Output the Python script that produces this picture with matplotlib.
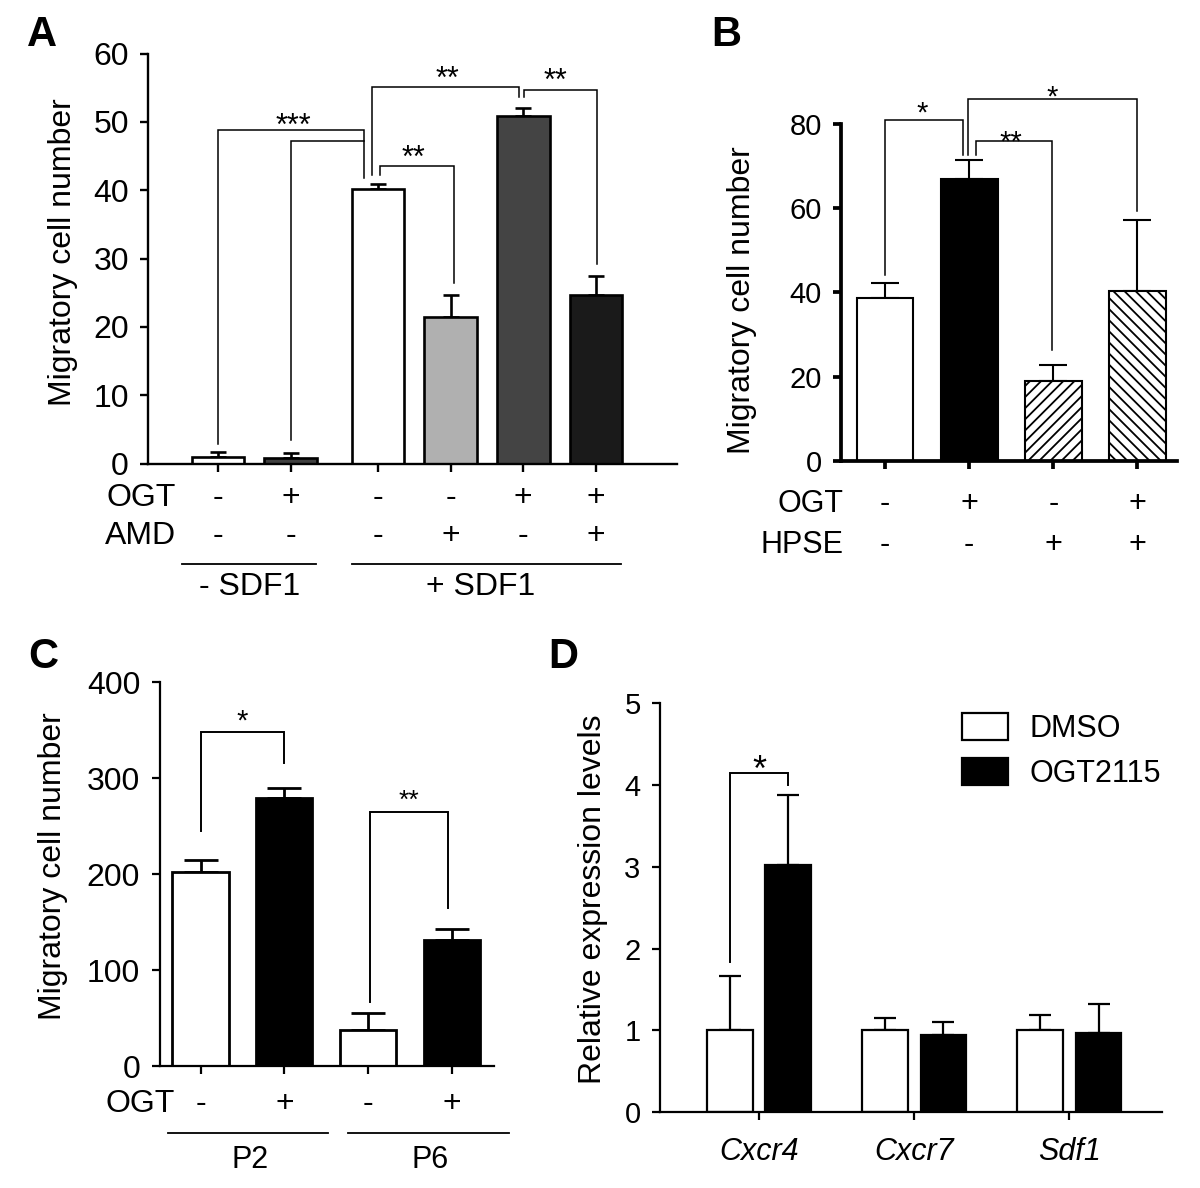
import matplotlib
matplotlib.use("Agg")
import matplotlib.pyplot as plt
import numpy as np

plt.rcParams['font.family'] = ['Liberation Sans', 'DejaVu Sans']
plt.rcParams['hatch.linewidth'] = 1.3

# ---- panel A data
a_x = [0, 1, 2.2, 3.2, 4.2, 5.2]
a_vals = [1.0, 0.8, 40.2, 21.4, 50.8, 24.7]
a_sem = [0.63, 0.77, 0.7, 3.3, 1.3, 2.8]
a_colors = ["white", "#404040", "white", "#b0b0b0", "#444444", "#1a1a1a"]
a_ogt = ["-", "+", "-", "-", "+", "+"]
a_amd = ["-", "-", "-", "+", "-", "+"]

# ---- panel B data
b_x = [0, 1, 2, 3]
b_vals = [38.7, 66.8, 19.0, 40.3]
b_sem = [3.6, 4.5, 3.8, 16.8]
b_colors = ["white", "black", "white", "white"]
b_hatch = [None, None, "///", "\\\\\\"]
b_ogt = ["-", "+", "-", "+"]
b_hpse = ["-", "-", "+", "+"]

# ---- panel C data
c_x = [0, 1, 2, 3]
c_vals = [202.6, 279.2, 37.7, 131.7]
c_sem = [12.5, 11.0, 17.8, 11.7]
c_colors = ["white", "black", "white", "black"]
c_ogt = ["-", "+", "-", "+"]

# ---- panel D data
genes = ["Cxcr4", "Cxcr7", "Sdf1"]
d_dmso = [1.0, 1.0, 1.0]
d_dmso_sem = [0.66, 0.15, 0.19]
d_ogt = [3.02, 0.94, 0.97]
d_ogt_sem = [0.86, 0.16, 0.35]

W, H = 1200, 1188
fig = plt.figure(figsize=(12, 11.88), dpi=100)


def axes_px(left, top, right, bottom):
    return fig.add_axes([left / W, 1 - bottom / H, (right - left) / W, (bottom - top) / H])


def style(ax, lw, fs):
    for s in ["top", "right"]:
        ax.spines[s].set_visible(False)
    for s in ["left", "bottom"]:
        ax.spines[s].set_linewidth(lw)
    ax.tick_params(axis="both", direction="out", length=6, width=lw, labelsize=fs, pad=8)


def bracket(ax, xs, ys, lw=1.1):
    ax.plot(xs, ys, color="k", lw=lw, clip_on=False, solid_joinstyle="miter")


def stars(ax, x, y, s, fs):
    ax.annotate(s, (x, y), xytext=(0, -0.58 * fs), textcoords="offset points",
                ha="center", va="baseline", fontsize=fs, annotation_clip=False)


def rowtext(ax, xs, labels, yfrac, fs):
    tr = ax.get_xaxis_transform()
    for x, s in zip(xs, labels):
        ax.text(x, yfrac, s, transform=tr, ha="center", va="center", fontsize=fs)


# ================= A
axA = axes_px(148.3, 53.6, 676.5, 463.6)
axA.bar(a_x, a_vals, width=0.725, color=a_colors, edgecolor="k", linewidth=1.9, zorder=2)
axA.errorbar(a_x, a_vals, yerr=[np.zeros(6), a_sem], fmt="none", ecolor="k",
             elinewidth=1.9, capsize=6, capthick=1.9, zorder=1)
axA.set_xlim(-0.961, 6.31)
axA.set_ylim(0, 60)
axA.set_yticks(range(0, 61, 10))
axA.set_xticks(a_x)
axA.set_xticklabels([])
style(axA, 1.7, 23)
bracket(axA, [0, 0, 2.01, 2.01], [2.8, 48.8, 48.8, 41.8])
bracket(axA, [1, 1, 2.01], [3.4, 47.2, 47.2])
bracket(axA, [2.23, 2.23, 3.25, 3.25], [42.3, 43.6, 43.6, 26.4])
bracket(axA, [2.12, 2.12, 4.14, 4.14], [42.3, 55.1, 55.1, 53.6])
bracket(axA, [4.21, 4.21, 5.22, 5.22], [53.6, 54.7, 54.7, 29.2])
stars(axA, 1.03, 50.7, "***", 22)
stars(axA, 2.69, 46.0, "**", 22)
stars(axA, 3.15, 57.5, "**", 22)
stars(axA, 4.65, 57.3, "**", 22)
trA = axA.get_xaxis_transform()
rowtext(axA, a_x, a_ogt, -0.084, 23)
rowtext(axA, a_x, a_amd, -0.177, 23)
axA.text(-0.58, -0.084, "OGT", transform=trA, ha="right", va="center", fontsize=23)
axA.text(-0.58, -0.177, "AMD", transform=trA, ha="right", va="center", fontsize=23)
axA.plot([-0.5, 1.35], [-0.245, -0.245], transform=trA, color="k", lw=1.3, clip_on=False)
axA.plot([1.84, 5.55], [-0.245, -0.245], transform=trA, color="k", lw=1.3, clip_on=False)
axA.text(0.43, -0.30, "- SDF1", transform=trA, ha="center", va="center", fontsize=23)
axA.text(3.62, -0.30, "+ SDF1", transform=trA, ha="center", va="center", fontsize=23)

# ================= B
axB = axes_px(841.1, 123.6, 1177, 461.2)
for x, v, c, h in zip(b_x, b_vals, b_colors, b_hatch):
    axB.bar(x, v, width=0.673, color=c, edgecolor="k", linewidth=1.5, hatch=h, zorder=2)
axB.errorbar(b_x, b_vals, yerr=[np.zeros(4), b_sem], fmt="none", ecolor="k",
             elinewidth=1.5, capsize=10, capthick=1.5, zorder=1)
axB.set_xlim(-0.523, 3.47)
axB.set_ylim(0, 80)
axB.set_yticks(range(0, 81, 20))
axB.set_xticks(b_x)
axB.set_xticklabels([])
style(axB, 2.7, 21)
bracket(axB, [0, 0, 0.924, 0.924], [44.2, 80.9, 80.9, 72.6])
bracket(axB, [0.988, 0.988, 2.99, 2.99], [72.6, 85.9, 85.9, 59.2])
bracket(axB, [1.084, 1.084, 1.99, 1.99], [72.6, 75.9, 75.9, 26.3])
stars(axB, 0.446, 84.6, "*", 21)
stars(axB, 1.98, 88.3, "*", 21)
stars(axB, 1.50, 77.6, "**", 21)
trB = axB.get_xaxis_transform()
rowtext(axB, b_x, b_ogt, -0.128, 22)
rowtext(axB, b_x, b_hpse, -0.249, 22)
axB.text(-0.50, -0.128, "OGT", transform=trB, ha="right", va="center", fontsize=22)
axB.text(-0.50, -0.249, "HPSE", transform=trB, ha="right", va="center", fontsize=22)

# ================= C
axC = axes_px(159.6, 682.3, 494, 1066.4)
axC.bar(c_x, c_vals, width=0.67, color=c_colors, edgecolor="k", linewidth=2.0, zorder=2)
axC.errorbar(c_x, c_vals, yerr=[np.zeros(4), c_sem], fmt="none", ecolor="k",
             elinewidth=2.0, capsize=12, capthick=2.0, zorder=1)
axC.set_xlim(-0.488, 3.5)
axC.set_ylim(0, 400)
axC.set_yticks(range(0, 401, 100))
axC.set_xticks(c_x)
axC.set_xticklabels([])
style(axC, 1.6, 23)
bracket(axC, [0, 0, 1, 1], [244.9, 347.9, 347.9, 315.8], lw=1.4)
bracket(axC, [2.02, 2.02, 2.95, 2.95], [66.8, 264.9, 264.9, 164.9], lw=1.4)
stars(axC, 0.5, 368.7, "*", 21)
stars(axC, 2.49, 285.7, "**", 19)
trC = axC.get_xaxis_transform()
rowtext(axC, c_x, c_ogt, -0.097, 23)
axC.text(-0.31, -0.097, "OGT", transform=trC, ha="right", va="center", fontsize=23)
axC.plot([-0.39, 1.52], [-0.173, -0.173], transform=trC, color="k", lw=1.3, clip_on=False)
axC.plot([1.76, 3.68], [-0.173, -0.173], transform=trC, color="k", lw=1.3, clip_on=False)
axC.text(0.59, -0.243, "P2", transform=trC, ha="center", va="center", fontsize=22)
axC.text(2.74, -0.243, "P6", transform=trC, ha="center", va="center", fontsize=22)

# ================= D
axD = axes_px(660, 703.3, 1162, 1112)
gx = np.arange(len(genes))
off, bw = 0.188, 0.293
axD.bar(gx - off, d_dmso, width=bw, color="white", edgecolor="k", linewidth=1.6, zorder=2, label="DMSO")
axD.bar(gx + off, d_ogt, width=bw, color="black", edgecolor="k", linewidth=1.6, zorder=2, label="OGT2115")
axD.errorbar(gx - off, d_dmso, yerr=[np.zeros(3), d_dmso_sem], fmt="none", ecolor="k",
             elinewidth=1.6, capsize=8, capthick=1.6, zorder=1)
axD.errorbar(gx + off, d_ogt, yerr=[np.zeros(3), d_ogt_sem], fmt="none", ecolor="k",
             elinewidth=1.6, capsize=8, capthick=1.6, zorder=1)
axD.set_xlim(-0.638, 2.597)
axD.set_ylim(0, 5)
axD.set_yticks(range(0, 6))
axD.set_xticks(gx)
axD.set_xticklabels(genes, style="italic")
style(axD, 1.6, 21)
axD.tick_params(axis="x", pad=12, labelsize=22)
bracket(axD, [-off, -off, off, off], [1.83, 4.15, 4.15, 4.0], lw=1.4)
stars(axD, 0.0, 4.31, "*", 26)
axD.legend(loc="upper left", bbox_to_anchor=(962 / W, 1 - 713 / H),
           bbox_transform=fig.transFigure, frameon=False, fontsize=22,
           handlelength=1.5, handleheight=1.0, handletextpad=0.7,
           labelspacing=0.45, borderpad=0, borderaxespad=0)

# ---- y labels and panel letters
fig.text(63.3 / W, 1 - 252.6 / H, "Migratory cell number", rotation=90, ha="center", va="center", fontsize=23)
fig.text(742 / W, 1 - 300.4 / H, "Migratory cell number", rotation=90, ha="center", va="center", fontsize=23)
fig.text(52.5 / W, 1 - 866.4 / H, "Migratory cell number", rotation=90, ha="center", va="center", fontsize=23)
fig.text(593.5 / W, 1 - 899 / H, "Relative expression levels", rotation=90, ha="center", va="center", fontsize=23)

for lab, px, py in [("A", 27, 46), ("B", 711, 46), ("C", 28, 668), ("D", 548, 668)]:
    fig.text(px / W, 1 - py / H, lab, fontsize=30, fontweight="bold", ha="left", va="baseline")

fig.savefig("out.png", dpi=100, facecolor="white")
